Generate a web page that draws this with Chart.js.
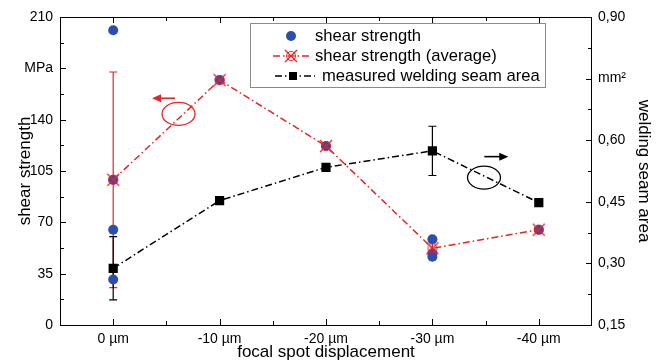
<!DOCTYPE html>
<html>
<head>
<meta charset="utf-8">
<script src="https://cdn.jsdelivr.net/npm/chart.js@4.4.1/dist/chart.umd.min.js"></script>
<style>
  html, body { margin: 0; padding: 0; background: #fff; }
  #wrap { width: 658px; height: 361px; }
</style>
</head>
<body>
<div id="wrap"><canvas id="chart" width="658" height="361"></canvas></div>
<script>
// categories on the x axis
const categories = ["0 µm", "-10 µm", "-20 µm", "-30 µm", "-40 µm"];

// single shear strength measurements (MPa)
const shearPointCat = ["0 µm", "0 µm", "0 µm", "0 µm", "-10 µm", "-20 µm", "-30 µm", "-30 µm", "-30 µm", "-40 µm"];
const shearPointVal = [201, 99, 65, 31, 167, 122, 58.4, 48.9, 46.6, 65];

// average shear strength (MPa) and its error
const shearAvg = [99, 167, 122, 52.3, 65];
const shearAvgErr = [73.5, 0, 0, 4.8, 0];

// welding seam area (mm²) and its error
const seamArea = [0.288, 0.453, 0.534, 0.574, 0.448];
const seamAreaErr = [0.077, 0, 0, 0.06, 0];

// axis ticks
const leftTicks = [0, 35, 70, 105, 140, 175, 210];
const rightTicks = [0.15, 0.30, 0.45, 0.60, 0.75, 0.90];

const RED = "rgb(232, 36, 36)";
const BLUE = "#2b4fae";
const FONT = "'Liberation Sans', Arial, sans-serif";

// red cross marker for the averages
function makeCross() {
    const c = document.createElement("canvas");
    c.width = 16; c.height = 16;
    const g = c.getContext("2d");
    g.strokeStyle = RED;
    g.lineWidth = 1.3;
    g.beginPath();
    g.moveTo(2, 2); g.lineTo(14, 14);
    g.moveTo(14, 2); g.lineTo(2, 14);
    g.stroke();
    g.lineWidth = 1;
    g.beginPath();
    g.arc(8, 8, 4.5, 0, Math.PI * 2);
    g.stroke();
    return c;
}
const crossMarker = makeCross();

function errorBars(chart, values, errs, scaleId, color) {
    const ctx = chart.ctx;
    const xs = chart.scales.x;
    const ys = chart.scales[scaleId];
    ctx.save();
    ctx.strokeStyle = color;
    ctx.lineWidth = 1.2;
    values.forEach((v, i) => {
        if (!errs[i]) return;
        const x = xs.getPixelForValue(i);
        const y1 = ys.getPixelForValue(v + errs[i]);
        const y2 = ys.getPixelForValue(v - errs[i]);
        ctx.beginPath();
        ctx.moveTo(x, y1); ctx.lineTo(x, y2);
        ctx.moveTo(x - 4, y1); ctx.lineTo(x + 4, y1);
        ctx.moveTo(x - 4, y2); ctx.lineTo(x + 4, y2);
        ctx.stroke();
    });
    ctx.restore();
}

const framePlugin = {
    id: "frame",
    beforeDatasetsDraw(chart) {
        const { ctx, chartArea: a, scales } = chart;
        ctx.save();
        ctx.strokeStyle = "#000";
        ctx.lineWidth = 1;
        ctx.strokeRect(Math.round(a.left) + 0.5, Math.round(a.top) + 0.5,
            Math.round(a.right - a.left) - 1, Math.round(a.bottom - a.top));
        ctx.beginPath();
        // x ticks, top and bottom, pointing in
        for (let i = 0; i < categories.length; i++) {
            const x = Math.round(scales.x.getPixelForValue(i)) + 0.5;
            ctx.moveTo(x, a.bottom); ctx.lineTo(x, a.bottom - 6);
            ctx.moveTo(x, a.top); ctx.lineTo(x, a.top + 6);
        }
        for (let i = 1; i < categories.length; i++) {
            const x = Math.round(scales.x.getPixelForValue(i - 0.5)) + 0.5;
            ctx.moveTo(x, a.bottom); ctx.lineTo(x, a.bottom - 4);
            ctx.moveTo(x, a.top); ctx.lineTo(x, a.top + 4);
        }
        // left ticks
        for (let v = 0; v <= 210; v += 17.5) {
            const y = Math.round(scales.y.getPixelForValue(v)) + 0.5;
            const len = (v % 35 === 0) ? 6 : 4;
            ctx.moveTo(a.left, y); ctx.lineTo(a.left + len, y);
        }
        // right ticks
        for (let k = 0; k <= 10; k++) {
            const v = 0.15 + k * 0.075;
            const y = Math.round(scales.y1.getPixelForValue(v)) + 0.5;
            const len = (k % 2 === 0) ? 6 : 4;
            ctx.moveTo(a.right, y); ctx.lineTo(a.right - len, y);
        }
        ctx.stroke();
        ctx.restore();

        errorBars(chart, shearAvg, shearAvgErr, "y", RED);
        errorBars(chart, seamArea, seamAreaErr, "y1", "#000");
    },
    afterDatasetsDraw(chart) {
        const { ctx, scales } = chart;
        const xs = scales.x;
        function ellipse(ix, y, color) {
            ctx.save();
            ctx.strokeStyle = color;
            ctx.lineWidth = 1.3;
            ctx.beginPath();
            ctx.ellipse(xs.getPixelForValue(ix), y, 16.5, 11.5, 0, 0, Math.PI * 2);
            ctx.stroke();
            ctx.restore();
        }
        function arrow(ixFrom, ixTo, y, color) {
            const x1 = xs.getPixelForValue(ixFrom), x2 = xs.getPixelForValue(ixTo);
            const dir = Math.sign(x2 - x1);
            ctx.save();
            ctx.strokeStyle = color; ctx.fillStyle = color;
            ctx.lineWidth = 1.6;
            ctx.beginPath();
            ctx.moveTo(x1, y); ctx.lineTo(x2 - dir * 8, y);
            ctx.stroke();
            ctx.beginPath();
            ctx.moveTo(x2, y);
            ctx.lineTo(x2 - dir * 9, y - 4);
            ctx.lineTo(x2 - dir * 9, y + 4);
            ctx.closePath();
            ctx.fill();
            ctx.restore();
        }
        ellipse(0.614, scales.y.getPixelForValue(143.9), RED);
        arrow(0.581, 0.365, scales.y.getPixelForValue(154.6), RED);
        ellipse(3.485, scales.y1.getPixelForValue(0.509), "#000");
        arrow(3.488, 3.713, scales.y1.getPixelForValue(0.560), "#000");

        // legend box
        ctx.save();
        ctx.fillStyle = "#fff";
        ctx.fillRect(250, 23, 295, 64);
        ctx.strokeStyle = "#8a8a8a";
        ctx.lineWidth = 1;
        ctx.strokeRect(250.5, 23.5, 295, 64);
        ctx.font = "16.6px " + FONT;
        ctx.fillStyle = "#000";
        ctx.textBaseline = "middle";
        ctx.fillText("shear strength", 315, 36);
        ctx.fillText("shear strength (average)", 315, 56);
        ctx.fillText("measured welding seam area", 322, 76);
        ctx.fillStyle = BLUE;
        ctx.beginPath(); ctx.arc(291, 36, 5, 0, Math.PI * 2); ctx.fill();
        ctx.lineWidth = 1.5;
        ctx.setLineDash([7, 3, 1.5, 3]);
        ctx.strokeStyle = RED;
        ctx.beginPath(); ctx.moveTo(273, 56); ctx.lineTo(312, 56); ctx.stroke();
        ctx.strokeStyle = "#000";
        ctx.beginPath(); ctx.moveTo(275, 76); ctx.lineTo(315, 76); ctx.stroke();
        ctx.setLineDash([]);
        ctx.drawImage(crossMarker, 283, 48);
        ctx.fillStyle = "#000";
        ctx.fillRect(289, 72, 8, 8);
        ctx.restore();
    }
};

new Chart(document.getElementById("chart"), {
    type: "line",
    data: {
        labels: categories,
        datasets: [
            {
                label: "shear strength (average)",
                data: shearAvg,
                yAxisID: "y",
                borderColor: RED,
                borderWidth: 1.5,
                borderDash: [7, 3, 1.5, 3],
                pointStyle: crossMarker,
                pointRadius: 8,
                fill: false,
                tension: 0
            },
            {
                label: "shear strength",
                data: shearPointCat.map((c, i) => ({ x: c, y: shearPointVal[i] })),
                yAxisID: "y",
                showLine: false,
                pointStyle: "circle",
                pointRadius: 5,
                pointBackgroundColor: BLUE,
                pointBorderColor: BLUE,
                pointBorderWidth: 0
            },
            {
                label: "measured welding seam area",
                data: seamArea,
                yAxisID: "y1",
                borderColor: "#000",
                borderWidth: 1.5,
                borderDash: [7, 3, 1.5, 3],
                pointStyle: "rect",
                pointRadius: 6.5,
                pointBackgroundColor: "#000",
                pointBorderColor: "#000",
                pointBorderWidth: 0,
                fill: false,
                tension: 0
            }
        ]
    },
    options: {
        responsive: false,
        animation: false,
        devicePixelRatio: 1,
        layout: { padding: { top: 17, left: 0, right: 0, bottom: 0 } },
        plugins: {
            legend: { display: false },
            tooltip: { enabled: false }
        },
        scales: {
            x: {
                type: "category",
                offset: true,
                grid: { display: false, drawTicks: false },
                border: { display: false },
                ticks: { color: "#000", padding: 6, font: { family: FONT, size: 14 } },
                title: {
                    display: true,
                    text: "focal spot displacement",
                    color: "#000",
                    font: { family: FONT, size: 17, lineHeight: 1 },
                    padding: { top: 0, bottom: 0 }
                },
                afterFit(s) { s.height = 36; }
            },
            y: {
                position: "left",
                min: 0,
                max: 210,
                afterBuildTicks(s) { s.ticks = leftTicks.map(v => ({ value: v })); },
                grid: { display: false, drawTicks: false },
                border: { display: false },
                ticks: {
                    color: "#000",
                    padding: 7,
                    font: { family: FONT, size: 14 },
                    callback: v => (v === 175 ? "MPa" : String(v))
                },
                title: {
                    display: true,
                    text: "shear strength",
                    color: "#000",
                    font: { family: FONT, size: 17 },
                    padding: { top: 15, bottom: 0 }
                },
                afterFit(s) { s.width = 60; }
            },
            y1: {
                position: "right",
                min: 0.15,
                max: 0.90,
                afterBuildTicks(s) { s.ticks = rightTicks.map(v => ({ value: v })); },
                grid: { display: false, drawTicks: false },
                border: { display: false },
                ticks: {
                    color: "#000",
                    padding: 6,
                    font: { family: FONT, size: 14 },
                    callback: v => {
                        const s = v.toFixed(2);
                        return s === "0.75" ? "mm²" : s.replace(".", ",");
                    }
                },
                title: {
                    display: true,
                    text: "welding seam area",
                    color: "#000",
                    font: { family: FONT, size: 17 },
                    padding: { top: 4, bottom: 0 }
                },
                afterFit(s) { s.width = 66; }
            }
        }
    },
    plugins: [framePlugin]
});
</script>
</body>
</html>
